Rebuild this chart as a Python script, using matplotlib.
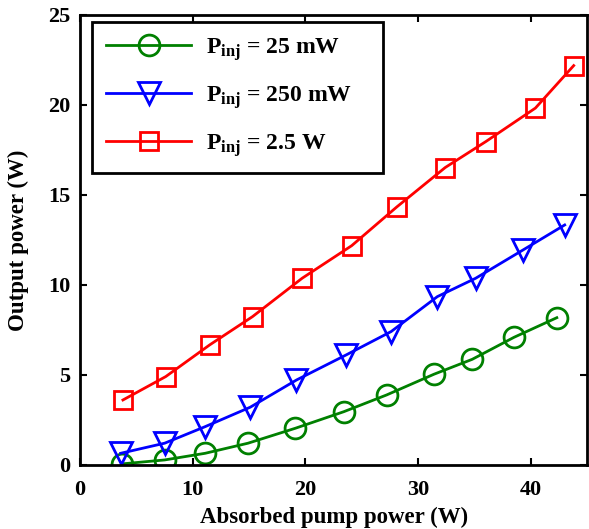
import matplotlib
matplotlib.use("Agg")
import matplotlib.pyplot as plt
from matplotlib.patches import Rectangle

plt.rcParams['font.family'] = ['Liberation Serif', 'DejaVu Serif']
plt.rcParams['font.weight'] = 'bold'
plt.rcParams['mathtext.fontset'] = 'custom'
plt.rcParams['mathtext.rm'] = 'Liberation Serif:bold'
plt.rcParams['mathtext.bf'] = 'Liberation Serif:bold'
plt.rcParams['mathtext.it'] = 'Liberation Serif:bold'
plt.rcParams['mathtext.default'] = 'bf'

# Data
x_25mW = [3.7, 7.5, 11.1, 14.9, 19.1, 23.4, 27.2, 31.4, 34.8, 38.5, 42.3]
y_25mW = [0.06, 0.28, 0.65, 1.21, 2.04, 2.96, 3.89, 5.04, 5.87, 7.09, 8.18]

x_250mW = [3.6, 7.5, 11.1, 15.1, 19.2, 23.6, 27.6, 31.7, 35.1, 39.3, 43.0]
y_250mW = [0.65, 1.21, 2.13, 3.21, 4.72, 6.11, 7.41, 9.35, 10.37, 11.94, 13.33]

x_2_5W = [3.8, 7.6, 11.5, 15.3, 19.7, 24.1, 28.1, 32.4, 36.0, 40.4, 43.8]
y_2_5W = [3.61, 4.91, 6.67, 8.24, 10.37, 12.18, 14.33, 16.52, 17.96, 19.82, 22.18]

labels = [r'P$_{inj}$ = 25 mW', r'P$_{inj}$ = 250 mW', r'P$_{inj}$ = 2.5 W']
xticks = [0, 10, 20, 30, 40]
yticks = [0, 5, 10, 15, 20, 25]

fig = plt.figure(figsize=(5.89, 5.29), dpi=100)
ax = fig.add_axes([0.136, 0.121, 0.861, 0.851])

ax.plot(x_25mW, y_25mW, color='#008000', lw=2, marker='o', ms=15, mfc='none', mew=2, label=labels[0])
ax.plot(x_250mW, y_250mW, color='#0000ff', lw=2, marker='v', ms=16, mfc='none', mew=2, label=labels[1])
ax.plot(x_2_5W, y_2_5W, color='#ff0000', lw=2, marker='s', ms=13, mfc='none', mew=2, label=labels[2])

ax.set_xlim(0, 45)
ax.set_ylim(0, 25)
ax.set_xticks(xticks)
ax.set_yticks(yticks)
ax.tick_params(direction='in', top=True, right=True, length=5, width=1.5, labelsize=16)
ax.tick_params(axis='x', pad=11)
ax.tick_params(axis='y', pad=7)
for lab in ax.get_xticklabels() + ax.get_yticklabels():
    lab.set_fontweight('bold')
for s in ax.spines.values():
    s.set_linewidth(2)

ax.set_xlabel('Absorbed pump power (W)', fontsize=16.5, fontweight='bold', labelpad=5)
ax.set_ylabel('Output power (W)', fontsize=16.5, fontweight='bold', labelpad=14)

leg = ax.legend(loc='upper left', bbox_to_anchor=(0.024, 0.985), borderaxespad=0,
                fontsize=17, handlelength=3.6, labelspacing=0.9, borderpad=0.6,
                handletextpad=0.6, frameon=False)
leg.set_zorder(6)
# draw a wider frame around the legend, as in the reference
fig.canvas.draw()
bb = leg.get_window_extent().transformed(fig.transFigure.inverted())
extra = 17 / fig.bbox.width
ax.add_patch(Rectangle((bb.x0, bb.y0), bb.width + extra, bb.height,
                       transform=fig.transFigure, clip_on=False, facecolor='white',
                       edgecolor='black', linewidth=2, zorder=5))

fig.savefig('out.png', dpi=100)
